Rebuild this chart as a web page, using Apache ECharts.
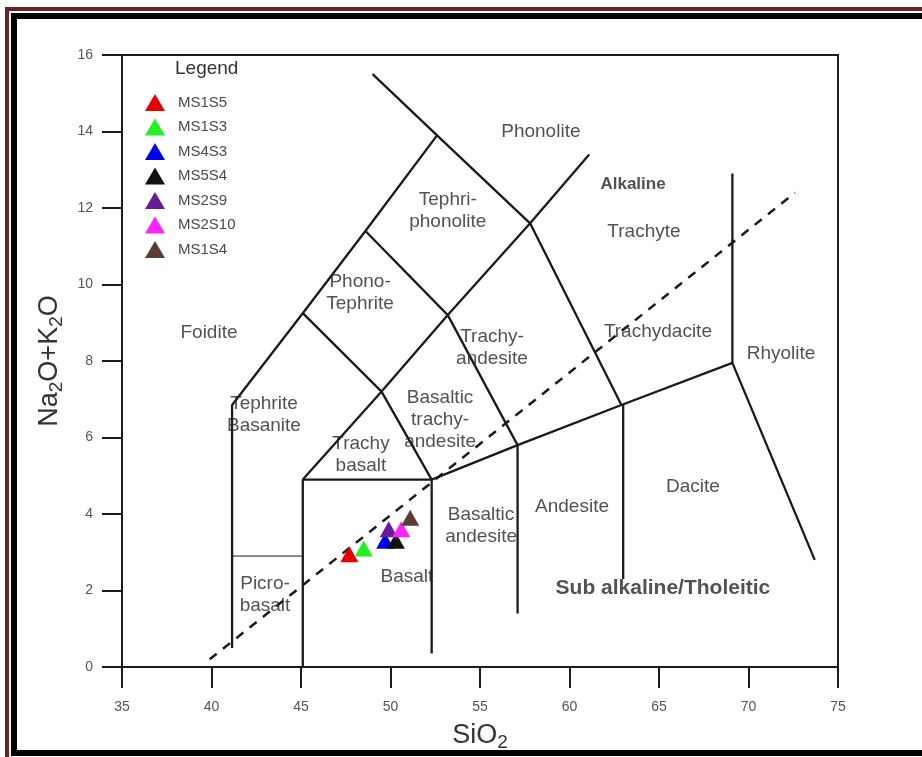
<!DOCTYPE html>
<html>
<head>
<meta charset="utf-8">
<script src="https://cdn.jsdelivr.net/npm/echarts@6/dist/echarts.min.js"></script>
<style>
html,body{margin:0;padding:0;background:#fff;}
#chart{width:922px;height:757px;}
</style>
</head>
<body>
<div id="chart"></div>
<script>
// ---- Axis ticks ----
const xTicks = [35, 40, 45, 50, 55, 60, 65, 70, 75];
const yTicks = [0, 2, 4, 6, 8, 10, 12, 14, 16];

// ---- Samples (SiO2, Na2O+K2O) ----
const sampleNames  = ['MS1S5', 'MS1S3', 'MS4S3', 'MS5S4', 'MS2S9', 'MS2S10', 'MS1S4'];
const sampleColors = ['#e80000', '#22f022', '#0000ee', '#111111', '#6a1b9a', '#ff22ff', '#5e3b33'];
const sampleSiO2   = [47.7, 48.5, 49.7, 50.3, 49.9, 50.6, 51.1];
const sampleAlk    = [2.95, 3.1, 3.3, 3.3, 3.6, 3.6, 3.9];

// ---- TAS field boundaries ----
const bFoidite     = [[41.15,0.5],[41.15,6.85],[45.1,9.25],[48.6,11.4],[52.6,13.9],[49.0,15.5]];
const bPhonolite   = [[52.6,13.9],[57.8,11.6],[61.1,13.4]];
const bTrachyte    = [[57.8,11.6],[62.9,6.85],[69.1,7.95],[73.7,2.8]];
const bRhyolite    = [[69.1,12.9],[69.1,7.95]];
const bDacite      = [[63.0,6.85],[63.0,2.3]];
const bAndesite    = [[62.9,6.85],[57.1,5.8],[57.1,1.4]];
const bTephriPh    = [[57.8,11.6],[53.2,9.2],[48.6,11.4]];
const bTrachyAnd   = [[53.2,9.2],[57.1,5.8]];
const bPhonoTeph   = [[53.2,9.2],[49.5,7.2],[45.1,9.25]];
const bBasTrAnd    = [[49.5,7.2],[52.3,4.9],[57.1,5.8]];
const bTrachyBas   = [[49.5,7.2],[45.1,4.9],[52.3,4.9]];
const bBasaltLeft  = [[45.1,4.9],[45.1,0]];
const bBasaltRight = [[52.3,4.9],[52.3,0.35]];
const bPicro       = [[41.15,2.9],[45.1,2.9]];
const bAlkaline    = [[39.9,0.2],[72.6,12.4]];

// ---- Field labels: text, SiO2, Na2O+K2O, font size, bold ----
const fieldLabels = [
  ['Phonolite', 58.4, 13.99, 19, false],
  ['Alkaline', 63.55, 12.63, 17, true],
  ['Tephri-\nphonolite', 53.2, 11.93, 19, false],
  ['Trachyte', 64.16, 11.38, 19, false],
  ['Phono-\nTephrite', 48.3, 9.79, 19, false],
  ['Foidite', 39.86, 8.74, 19, false],
  ['Trachy-\nandesite', 55.67, 8.35, 19, false],
  ['Trachydacite', 64.94, 8.77, 19, false],
  ['Rhyolite', 71.82, 8.2, 19, false],
  ['Tephrite\nBasanite', 42.93, 6.6, 19, false],
  ['Basaltic\ntrachy-\nandesite', 52.77, 6.47, 19, false],
  ['Trachy\nbasalt', 48.35, 5.56, 19, false],
  ['Dacite', 66.9, 4.72, 19, false],
  ['Andesite', 60.14, 4.2, 19, false],
  ['Basaltic\nandesite', 55.06, 3.68, 19, false],
  ['Sub alkaline/Tholeitic', 65.22, 2.06, 21, true],
  ['Basalt', 50.92, 2.35, 19, false],
  ['Picro-\nbasalt', 42.99, 1.88, 19, false]
];

const FONT = '"Liberation Sans", Arial, sans-serif';

function lineSeries(data, width, dashed) {
  return {
    type: 'line', data: data, symbol: 'none', silent: true, animation: false,
    legendHoverLink: false, z: 3,
    lineStyle: { color: '#1a1a1a', width: width, type: dashed ? [9, 8] : 'solid' }
  };
}

const series = [
  lineSeries(bFoidite, 2.3), lineSeries(bPhonolite, 2.3), lineSeries(bTrachyte, 2.3),
  lineSeries(bRhyolite, 2.3), lineSeries(bDacite, 2.3), lineSeries(bAndesite, 2.3),
  lineSeries(bTephriPh, 2.3), lineSeries(bTrachyAnd, 2.3), lineSeries(bPhonoTeph, 2.3),
  lineSeries(bBasTrAnd, 2.3), lineSeries(bTrachyBas, 2.3), lineSeries(bBasaltLeft, 2.3),
  lineSeries(bBasaltRight, 2.3), lineSeries(bPicro, 1), lineSeries(bAlkaline, 2.5, true),
  {
    type: 'scatter', silent: true, animation: false, symbolSize: 0, z: 4,
    data: fieldLabels.map(l => ({
      value: [l[1], l[2]],
      label: {
        show: true, position: 'inside', formatter: l[0],
        color: '#262626', fontWeight: l[4] ? 'bold' : 'normal',
        fontSize: l[3], lineHeight: 22, fontFamily: FONT, align: 'center'
      }
    }))
  }
];

sampleNames.forEach((name, i) => {
  series.push({
    name: name, type: 'scatter', symbol: 'triangle', symbolSize: [18, 16],
    animation: false, z: 5,
    itemStyle: { color: sampleColors[i], opacity: 1 },
    data: [[sampleSiO2[i], sampleAlk[i]]]
  });
});

const subRich = { sub: { fontSize: 19, verticalAlign: 'bottom', padding: [14, 0, 0, 0], color: '#333', fontFamily: FONT } };

const chart = echarts.init(document.getElementById('chart'), null, { renderer: 'canvas' });
chart.setOption({
  backgroundColor: '#fff',
  animation: false,
  grid: { left: 122, right: 84, top: 55, bottom: 89, show: true, borderColor: '#1a1a1a', borderWidth: 2, backgroundColor: 'transparent' },
  xAxis: {
    type: 'value', min: xTicks[0], max: xTicks[xTicks.length - 1], interval: 5,
    name: 'SiO{sub|2}', nameLocation: 'middle', nameGap: 52,
    nameTextStyle: { fontSize: 27, color: '#333', fontFamily: FONT, rich: subRich },
    axisLine: { lineStyle: { color: '#1a1a1a', width: 2 } },
    axisTick: { show: true, inside: false, length: 21, lineStyle: { color: '#1a1a1a', width: 2 } },
    axisLabel: { color: '#555', fontSize: 14, margin: 33, fontFamily: FONT },
    splitLine: { show: false }
  },
  yAxis: {
    type: 'value', min: yTicks[0], max: yTicks[yTicks.length - 1], interval: 2,
    name: 'Na{sub|2}O+K{sub|2}O', nameLocation: 'middle', nameGap: 56, nameRotate: 90,
    nameTextStyle: { fontSize: 27, color: '#333', fontFamily: FONT, rich: subRich },
    axisLine: { lineStyle: { color: '#1a1a1a', width: 2 } },
    axisTick: { show: true, inside: false, length: 20, lineStyle: { color: '#1a1a1a', width: 2 } },
    axisLabel: { color: '#555', fontSize: 14, margin: 29, fontFamily: FONT },
    splitLine: { show: false }
  },
  legend: {
    orient: 'vertical', left: 140, top: 89, itemWidth: 20, itemHeight: 17, itemGap: 7.5,
    icon: 'triangle', data: sampleNames,
    textStyle: { color: '#4a4a4a', fontSize: 15, fontFamily: FONT, padding: [0, 0, 0, 8] }
  },
  graphic: [
    { type: 'text', left: 175, top: 59, style: { text: 'Legend', fill: '#333', font: '19px ' + FONT } },
    { type: 'rect', shape: { x: 7, y: 9, width: 940, height: 800 }, style: { fill: 'none', stroke: '#6b2222', lineWidth: 4 }, silent: true },
    { type: 'rect', shape: { x: 14, y: 16, width: 940, height: 737 }, style: { fill: 'none', stroke: '#000', lineWidth: 6 }, silent: true }
  ],
  series: series
});
</script>
</body>
</html>
